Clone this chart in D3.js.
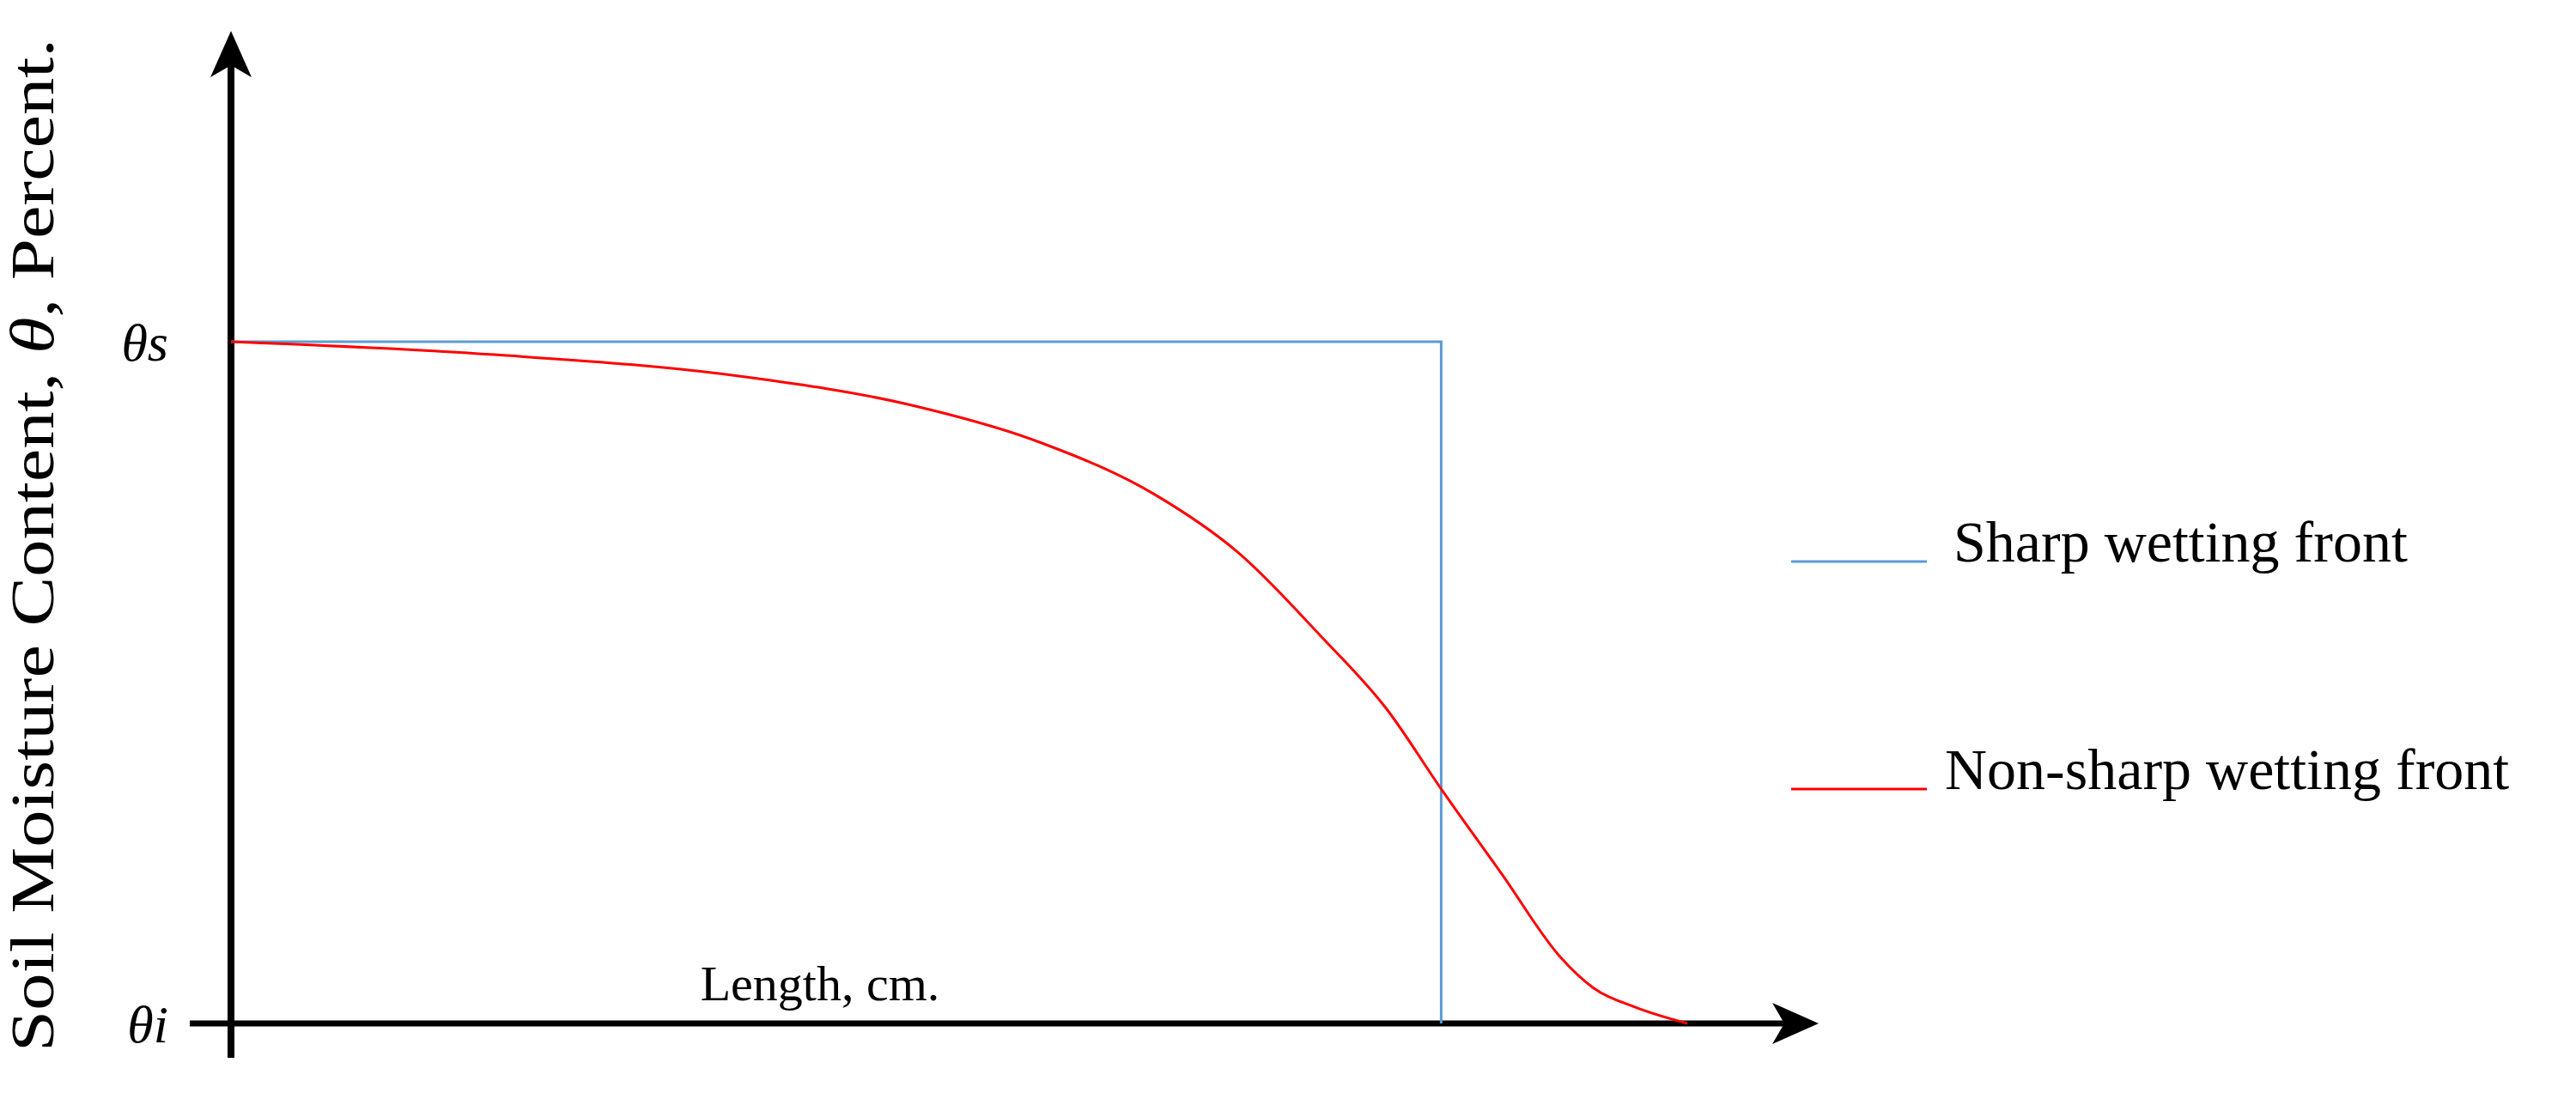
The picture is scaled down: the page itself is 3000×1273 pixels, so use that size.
<!DOCTYPE html>
<html><head><meta charset="utf-8">
<script src="https://cdnjs.cloudflare.com/ajax/libs/d3/7.8.5/d3.min.js"></script>
<style>body{margin:0;background:#fff}</style>
</head><body>
<script>
// relative length (0-100) and relative moisture (0 = θi, 1 = θs)
var sharpX = [0, 83.1, 83.1];
var sharpY = [1, 1, 0];
var curveX = [0, 18.1, 35.1, 46.5, 55.6, 63.5, 69.2, 74.8, 79.4, 83.1, 87.3, 91.3, 93.5, 96.4, 100];
var curveY = [1, 0.981, 0.949, 0.908, 0.852, 0.775, 0.690, 0.569, 0.460, 0.344, 0.218, 0.097, 0.053, 0.024, 0];
var yTickLabels = ["θi", "θs"];
var legendLabels = ["Sharp wetting front", "Non-sharp wetting front"];
var colors = ["#5b9bd5", "#ff0000"];

var W = 3000, H = 1273;
var svg = d3.select("body").append("svg").attr("width", W).attr("height", H);
var x = d3.scaleLinear().domain([0, 100]).range([269, 1965]);
var y = d3.scaleLinear().domain([0, 1]).range([1192, 398]);
var font = "'Liberation Serif', 'DejaVu Serif', serif";

// axes with arrows
svg.append("line").attr("x1", 269).attr("x2", 269).attr("y1", 70).attr("y2", 1232)
  .attr("stroke", "#000").attr("stroke-width", 8);
svg.append("path").attr("d", "M269,36 L245,90 L269,76 L293,90 Z").attr("fill", "#000");
svg.append("line").attr("x1", 221).attr("x2", 2085).attr("y1", 1192).attr("y2", 1192)
  .attr("stroke", "#000").attr("stroke-width", 7);
svg.append("path").attr("d", "M2118,1192 L2064,1168 L2078,1192 L2064,1216 Z").attr("fill", "#000");

var line = d3.line().x(function(d) { return x(d[0]); }).y(function(d) { return y(d[1]); });
svg.append("path").datum(d3.zip(sharpX, sharpY)).attr("d", line)
  .attr("fill", "none").attr("stroke", colors[0]).attr("stroke-width", 3);
svg.append("path").datum(d3.zip(curveX, curveY))
  .attr("d", line.curve(d3.curveMonotoneX))
  .attr("fill", "none").attr("stroke", colors[1]).attr("stroke-width", 3);

// y tick labels
svg.selectAll(".ytl").data(yTickLabels).enter().append("text")
  .attr("x", 196).attr("y", function(d, i) { return y(i) + 22; })
  .attr("text-anchor", "end").attr("font-family", font).attr("font-style", "italic")
  .attr("font-size", 62).text(function(d) { return d; });

// axis titles
svg.append("text").attr("x", 955).attr("y", 1165).attr("text-anchor", "middle")
  .attr("font-family", font).attr("font-size", 58).text("Length, cm.");
var yt = svg.append("text").attr("transform", "translate(62,635) rotate(-90)")
  .attr("text-anchor", "middle").attr("font-family", font).attr("font-size", 72)
  .attr("textLength", 1180).attr("lengthAdjust", "spacingAndGlyphs");
yt.append("tspan").text("Soil Moisture Content, ");
yt.append("tspan").attr("font-style", "italic").text("θ");
yt.append("tspan").text(", Percent.");

// legend
var lg = svg.selectAll(".lg").data(legendLabels).enter().append("g")
  .attr("transform", function(d, i) { return "translate(0," + (i == 0 ? 654 : 919) + ")"; });
lg.append("line").attr("x1", 2086).attr("x2", 2244)
  .attr("stroke", function(d, i) { return colors[i]; }).attr("stroke-width", 3);
lg.append("text").attr("x", function(d, i) { return i == 0 ? 2275 : 2265; }).attr("y", 0)
  .attr("font-family", font).attr("font-size", 68).text(function(d) { return d; });
</script>
</body></html>
